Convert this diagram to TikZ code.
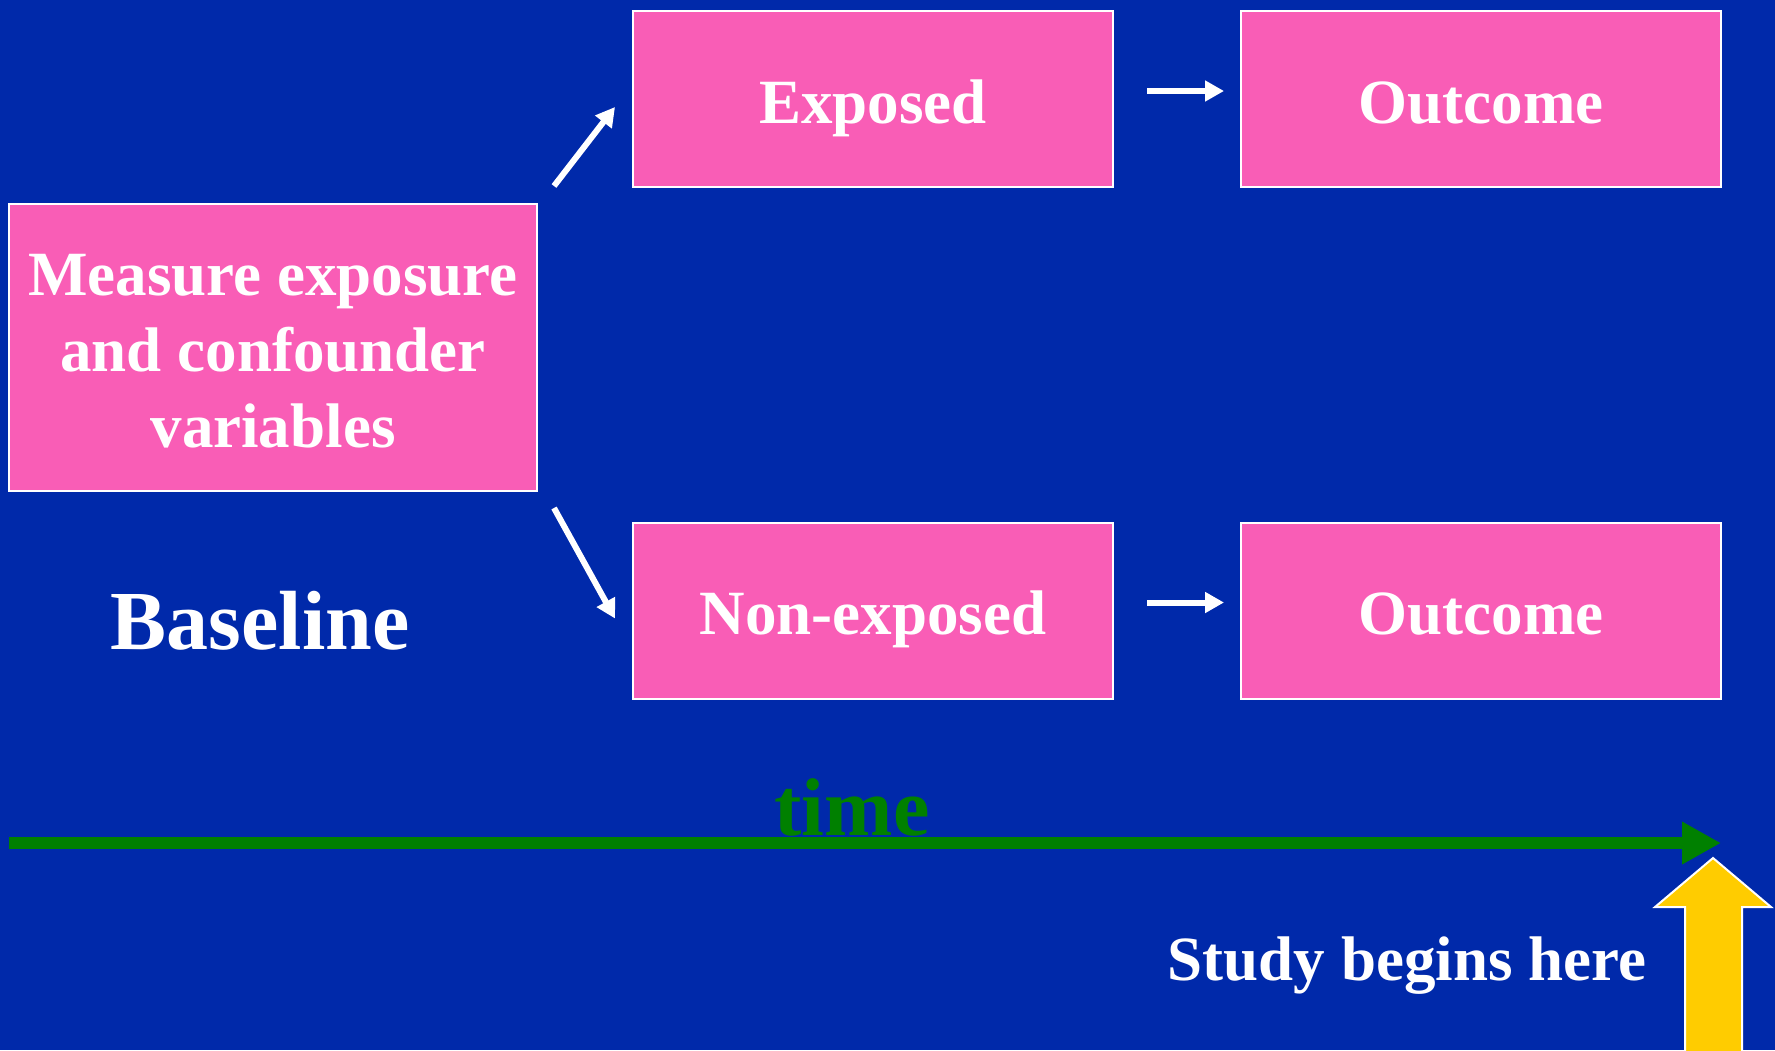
\documentclass[tikz,border=0pt]{standalone}
\usepackage{fontspec}
\setmainfont{Liberation Serif}
\usetikzlibrary{arrows.meta,calc}
\definecolor{bgblue}{RGB}{0,41,170}
\definecolor{boxpink}{RGB}{249,93,182}
\definecolor{timegreen}{RGB}{0,128,0}
\definecolor{arrowyellow}{RGB}{255,204,0}
\begin{document}
\begin{tikzpicture}[x=0.5pt,y=-0.5pt,
  pinkbox/.style={draw=white,line width=1pt,fill=boxpink,text=white,
    font=\fontsize{31.5}{38}\selectfont\bfseries,align=center,inner sep=0pt},
  smallbox/.style={pinkbox,minimum width=240pt,minimum height=88pt,
    text height=24pt,text depth=0pt},
  whitearrow/.style={draw=white,line width=3pt,-{Triangle[length=9.5pt,width=10pt]}},
  lbl/.style={text=white,font=\bfseries,inner sep=0pt,anchor=base}]
\fill[bgblue] (0,0) rectangle (1775,1050);
\useasboundingbox (0,0) rectangle (1775,1050);

\node[pinkbox,minimum width=264pt,minimum height=143.5pt] (meas) at (273,347.5)
  {\rule{0pt}{24.5pt}Measure exposure\\and confounder\\variables};
\node[smallbox] (exp) at (873,99) {Exposed};
\node[smallbox] (out1) at (1481,99) {Outcome};
\node[smallbox] (nexp) at (873,610.5) {Non-exposed};
\node[smallbox] (out2) at (1481,610.5) {Outcome};

\coordinate (u1) at ($(meas.north east)+(16,-17)$);
\coordinate (u2) at ($(exp.west)+(-17,8)$);
\coordinate (d1) at ($(meas.south east)+(16,16)$);
\coordinate (d2) at ($(nexp.west)+(-17,8)$);
\coordinate (h1) at ($(exp.east)+(33,-8)$);
\coordinate (h2) at ($(out1.west)+(-16,-8)$);
\coordinate (h3) at ($(nexp.east)+(33,-8)$);
\coordinate (h4) at ($(out2.west)+(-16,-8)$);
\draw[whitearrow] (u1) -- (u2);
\draw[whitearrow] (d1) -- (d2);
\draw[whitearrow] (h1) -- (h2);
\draw[whitearrow] (h3) -- (h4);

\node[lbl,font=\fontsize{42}{50}\selectfont\bfseries] (base) at (260,649) {Baseline};

\coordinate (t0) at (9,843);
\coordinate (t1) at (1721,843);
\draw[timegreen,line width=6pt,-{Triangle[length=19.5pt,width=20pt]}] (t0) -- (t1);
\node[lbl,text=timegreen,font=\fontsize{41}{49}\selectfont\bfseries] (time) at (852,835) {time};

\node[lbl,font=\fontsize{31.5}{38}\selectfont\bfseries] (study) at (1407,980) {Study begins here};

\draw[fill=arrowyellow,draw=white,line width=1pt]
  (1685,1060) -- (1685,907) -- (1655,907) -- (1713,858) -- (1771,907) -- (1742,907) -- (1742,1060);
\end{tikzpicture}
\end{document}
